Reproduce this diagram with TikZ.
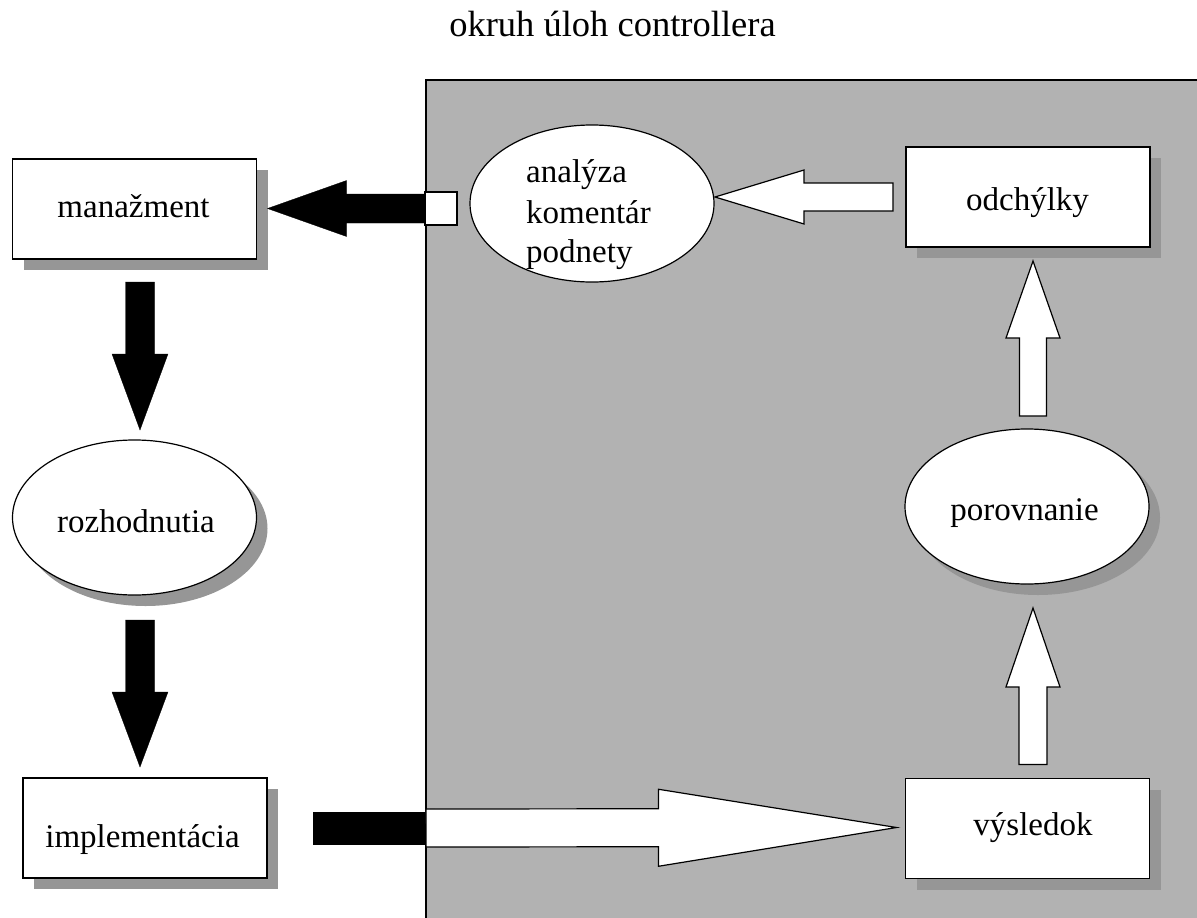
\documentclass[tikz,border=0pt]{standalone}
\usepackage{fontspec}
\setmainfont{Liberation Serif}
\usetikzlibrary{shapes.geometric,shadows,calc}
\definecolor{panelgray}{RGB}{178,178,178}
\definecolor{shadegray}{RGB}{150,150,150}

% block arrow: #1 style, #2 tail, #3 tip, #4 shaft half-width, #5 head half-width, #6 head length
\newcommand{\blockarrow}[6]{%
  \coordinate (bahead) at ($(#3)!#6!(#2)$);
  \path[#1] ($(#2)!#4!90:(#3)$) -- ($(bahead)!#4!-90:(#2)$) -- ($(bahead)!#5!-90:(#2)$)
    -- (#3) -- ($(bahead)!#5!90:(#2)$) -- ($(bahead)!#4!90:(#2)$) -- ($(#2)!#4!-90:(#3)$) -- cycle;}

\tikzset{
  outline/.style={draw=black, line width=1.2pt},
  shade/.style={drop shadow={shadow xshift=11pt, shadow yshift=-11pt, fill=shadegray, opacity=1}},
  box/.style={outline, rectangle, fill=white, minimum width=244pt, minimum height=100pt, inner sep=0pt, outer sep=0pt, shade},
  oval/.style={outline, ellipse, fill=white, minimum width=244pt, minimum height=155pt, inner sep=0pt, outer sep=0pt},
  lbl/.style={anchor=base, inner sep=0pt, font=\fontsize{33}{40}\selectfont},
  blackarrow/.style={fill=black, draw=black, line width=0.3pt},
  whitearrow/.style={fill=white, draw=black, line width=1.2pt, line join=miter},
}

\begin{document}
\begin{tikzpicture}[x=1pt, y=-1pt]
\useasboundingbox[fill=white] (0,0) rectangle (1197,918);

% controller's area
\node[outline, fill=panelgray, rectangle, anchor=north west, minimum width=900pt, minimum height=900pt,
      inner sep=0pt, outer sep=0pt] (panel) at (426,80) {};

\node[anchor=base, inner sep=0pt, font=\fontsize{36.5}{44}\selectfont] (title) at (612.5,36) {okruh úloh controllera};

% management side
\node[box] (man) at (134.5,209) {};
\node[oval, shade] (rozh) at (134.5,517.5) {};
\node[box] (impl) at (145,828) {};
\node[lbl] (manT) at (133.5,217) {manažment};
\node[lbl] (rozhT) at (136,532) {rozhodnutia};
\node[lbl] (implT) at (142.5,847) {implementácia};

% controlling side
\node[box] (odch) at (1028,197) {};
\node[oval, shade] (por) at (1027,506.5) {};
\node[box] (vys) at (1027.5,828.5) {};
\node[oval, minimum height=157pt] (ana) at (592,203.5) {};
\node[lbl] (odchT) at (1027.5,210) {odchýlky};
\node[lbl] (porT) at (1024.5,520) {porovnanie};
\node[lbl] (vysT) at (1033,835) {výsledok};
\node[lbl, anchor=base west] (ana1) at (526,182) {analýza};
\node[lbl, anchor=base west] (ana2) at (526,223) {komentár};
\node[lbl, anchor=base west] (ana3) at (526,262) {podnety};

% connectors
\coordinate (a1s) at ($(man.south)+(5.5,23)$);
\coordinate (a1e) at ($(rozh.north)+(5.5,-10)$);
\blockarrow{blackarrow}{a1s}{a1e}{14.5pt}{28pt}{76pt}

\coordinate (a2s) at ($(rozh.south)+(5.5,25)$);
\coordinate (a2e) at ($(impl.north)+(-5,-11)$);
\blockarrow{blackarrow}{a2s}{a2e}{14.5pt}{28pt}{75pt}

\coordinate (fA) at ($(impl.east)+(46,-16)$);
\coordinate (fB) at (panel.west |- 0,845);
\fill[black] (fA) rectangle (fB);
\coordinate (a3s) at (panel.west |- 0,828);
\coordinate (a3e) at ($(vys.west)+(-9,-1)$);
\blockarrow{whitearrow}{a3s}{a3e}{19pt}{38.5pt}{238pt}

\coordinate (a4s) at ($(vys.north)+(5.5,-14)$);
\coordinate (a4e) at ($(por.south)+(6,24)$);
\blockarrow{whitearrow}{a4s}{a4e}{14pt}{27pt}{79pt}

\coordinate (a5s) at ($(por.north)+(6,-13)$);
\coordinate (a5e) at ($(odch.south)+(5,14)$);
\blockarrow{whitearrow}{a5s}{a5e}{13.5pt}{27pt}{77pt}

\coordinate (a6s) at ($(odch.west)+(-13,0)$);
\coordinate (a6e) at ($(ana.east)+(1,-6.5)$);
\blockarrow{whitearrow}{a6s}{a6e}{14pt}{27pt}{89pt}

\node[outline, rectangle, fill=white, minimum width=32pt, minimum height=33pt, inner sep=0pt, outer sep=0pt] (port) at (441,208.5) {};
\coordinate (a7e) at ($(man.east)+(11,-0.5)$);
\blockarrow{blackarrow}{port.west}{a7e}{14.5pt}{28pt}{79pt}
\end{tikzpicture}
\end{document}
